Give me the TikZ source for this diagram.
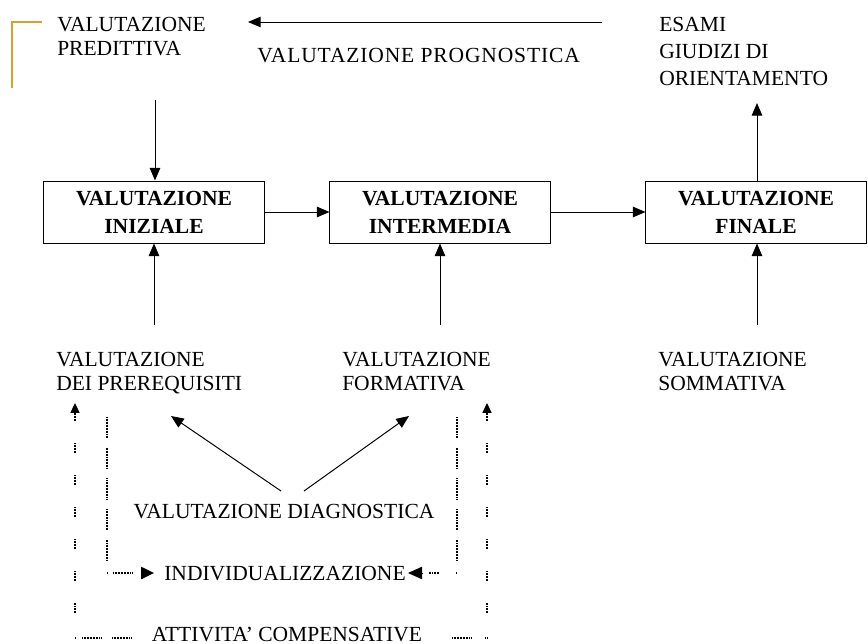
\documentclass[tikz,border=0pt]{standalone}
\usepackage{fontspec}
\setmainfont{Liberation Serif}
\usetikzlibrary{arrows.meta}
\definecolor{bracketgold}{RGB}{214,162,40}
\tikzset{
  % Specifications for style of nodes:
  base/.style = {
    inner sep=0pt,
    font=\fontsize{15.3}{17}\selectfont
  },
  label/.style = {
    base,
    align=left,
    anchor=north west
  },
  stage/.style = {
    rectangle,
    draw=black,
    line width=0.7pt,
    minimum width=5.5cm,
    minimum height=1.55cm,
    align=center,
    font=\fontsize{15.3}{20}\selectfont\bfseries
  },
  % Specifications for style of connectors:
  arr/.style = {
    -{Triangle[length=9pt,width=7.5pt]},
    line width=0.7pt
  },
  fine/.style = {
    line width=0.8pt,
    dash pattern=on .55pt off .55pt
  },
  outerdots/.style = {
    line width=0.8pt,
    dash pattern=on .55pt off .55pt on .55pt off .55pt on .55pt off .55pt
                 on .55pt off .55pt on .55pt off .55pt on .55pt off .55pt
                 on .55pt off 15.6pt
  },
  innerdots/.style = {
    line width=0.8pt,
    dash pattern=on .55pt off .55pt on .55pt off .55pt on .55pt off .55pt
                 on .55pt off .55pt on .55pt off .55pt on .55pt off .55pt
                 on .55pt off .55pt on .55pt off .55pt on .55pt off .55pt
                 on .55pt off .55pt on .55pt off .55pt on .55pt off .55pt
                 on .55pt off .55pt on .55pt off 7pt
  },
  dottip/.style = {
    -{Triangle[length=7pt,width=6.5pt]}
  },
}
\begin{document}
\begin{tikzpicture}[x=0.025cm, y=-0.025cm]
    \useasboundingbox (0,0) rectangle (868,644);
    % Specification of nodes (position, etc.)
    \node[label]                                  (pred)   at (57,17)   {VALUTAZIONE\\PREDITTIVA};
    \node[base, anchor=base west, font=\fontsize{15.3}{17}\selectfont\addfontfeature{LetterSpace=4}]
                                                  (progn)  at (257,63)  {VALUTAZIONE PROGNOSTICA};
    \node[label, font=\fontsize{15.3}{19.2}\selectfont] (esami) at (659,17) {ESAMI\\GIUDIZI DI\\ORIENTAMENTO};
    \node[stage]                                  (iniz)   at (154,212) {VALUTAZIONE\\INIZIALE};
    \node[stage]                                  (inter)  at (440,212) {VALUTAZIONE\\INTERMEDIA};
    \node[stage]                                  (fin)    at (756,212) {VALUTAZIONE\\FINALE};
    \node[label]                                  (prereq) at (56,352)  {VALUTAZIONE\\DEI PREREQUISITI};
    \node[label]                                  (form)   at (342,352) {VALUTAZIONE\\FORMATIVA};
    \node[label]                                  (somm)   at (658,352) {VALUTAZIONE\\SOMMATIVA};
    \node[base, anchor=base]                      (diagn)  at (284,518) {VALUTAZIONE DIAGNOSTICA};
    \node[base, anchor=base]                      (indiv)  at (285,580) {INDIVIDUALIZZAZIONE};
    \node[base, anchor=base]                      (compen) at (287,641) {ATTIVITA' COMPENSATIVE};
    % Free ends of connectors
    \coordinate (prognR)  at (602,22);
    \coordinate (prognL)  at (248,22);
    \coordinate (predB)   at (155,100);
    \coordinate (esamiB)  at (757,103);
    \coordinate (prereqT) at (154,325);
    \coordinate (formT)   at (440,325);
    \coordinate (sommT)   at (757,325);
    \coordinate (diagnL)  at (281,491);
    \coordinate (diagnR)  at (304,491);
    \coordinate (prereqB) at (171,416);
    \coordinate (formB)   at (409,416);
    \coordinate (outL)    at (75,638);
    \coordinate (outR)    at (488,638);
    \coordinate (inL)     at (107,573);
    \coordinate (inR)     at (457,573);
    \coordinate (indivL)  at (154,573);
    \coordinate (indivR)  at (408,573);
    % Bracket
    \draw[bracketgold, line width=1pt] (42,22) -- (12,22) -- (12,88);
    % Connectors
    \draw[arr] (prognR) -- (prognL);
    \draw[arr] (predB) -- (iniz.north -| predB);
    \draw[arr] (iniz.east) -- (inter.west);
    \draw[arr] (inter.east) -- (fin.west);
    \draw[arr] (fin.north -| esamiB) -- (esamiB);
    \draw[arr] (prereqT) -- (iniz.south -| prereqT);
    \draw[arr] (formT) -- (inter.south -| formT);
    \draw[arr] (sommT) -- (fin.south -| sommT);
    \draw[arr] (diagnL) -- (prereqB);
    \draw[arr] (diagnR) -- (formB);
    % Compensative loop
    \draw[fine] (outL) -- ++(1,0);
    \draw[fine] (82,638) -- (102,638);
    \draw[fine] (112,638) -- (132,638);
    \draw[fine] (452,638) -- (472,638);
    \draw[fine] (485,638) -- (outR);
    \draw[outerdots, dottip] (75,613) -- (75,403);
    \draw[outerdots, dottip] (487,613) -- (487,403);
    % Individualization loop
    \draw[innerdots] (107,417) -- (107,562);
    \draw[innerdots] (457,417) -- (457,562);
    \draw[fine] (inL) -- ++(1,0);
    \draw[fine] (113,573) -- (133,573);
    \draw[arr, line width=0pt, -{Triangle[length=9.2pt,width=9pt]}] (141,573) -- (indivL);
    \draw[fine] (inR) -- ++(-1,0);
    \draw[fine] (439,573) -- (429,573);
    \draw[arr, line width=0pt, -{Triangle[length=10pt,width=9pt]}] (422,573) -- (indivR);
\end{tikzpicture}
\end{document}
